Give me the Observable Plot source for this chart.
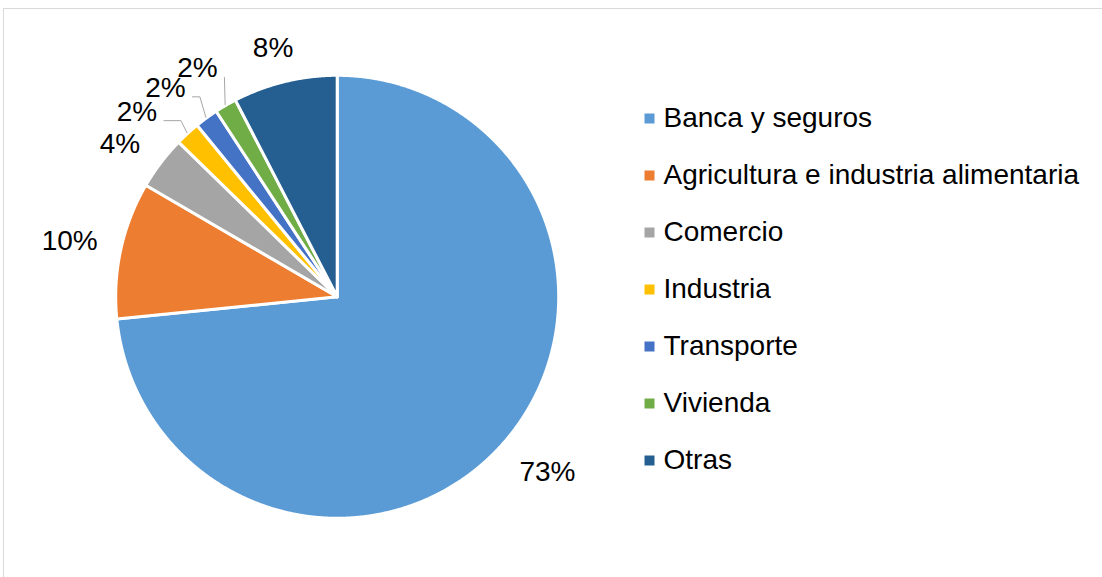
<!DOCTYPE html>
<html>
<head>
<meta charset="utf-8">
<script src="https://cdn.jsdelivr.net/npm/d3@7"></script>
<script src="https://cdn.jsdelivr.net/npm/@observablehq/plot@0.6"></script>
<style>
  html, body { margin: 0; padding: 0; background: #fff; }
  #wrap { position: relative; width: 1102px; height: 577px; overflow: hidden; font-family: "Liberation Sans", Arial, sans-serif; }
  #frame { position: absolute; left: 3px; top: 8px; width: 1300px; height: 800px; border: 1px solid #d9d9d9; box-sizing: border-box; }
  #wrap svg { position: absolute; left: 0; top: 0; }
</style>
</head>
<body>
<div id="wrap"><div id="frame"></div></div>
<script>
// ---- data ----
const categories = ["Banca y seguros", "Agricultura e industria alimentaria", "Comercio", "Industria", "Transporte", "Vivienda", "Otras"];
const values = [73.4, 10.0, 3.9, 1.8, 1.7, 1.6, 7.6];
const colors = ["#5B9BD5", "#ED7D31", "#A5A5A5", "#FFC000", "#4472C4", "#70AD47", "#255E91"];

// ---- layout ----
const W = 1102, H = 577;
const cx = 336.7, cy = 296.3, R = 221.5;   // pixel centre & radius of the pie
const fontSize = 28;

const pie = d3.pie().sort(null).value(d => d)(values);
const total = d3.sum(values);

// slice polygons in data units (unit circle, y up)
const polys = [];
pie.forEach((p, i) => {
  const cat = categories[i];
  polys.push({cat, x: 0, y: 0});
  const n = Math.max(2, Math.ceil((p.endAngle - p.startAngle) / (Math.PI / 720)));
  for (let k = 0; k <= n; k++) {
    const a = p.startAngle + (p.endAngle - p.startAngle) * k / n;
    polys.push({cat, x: Math.sin(a), y: Math.cos(a)});
  }
  polys.push({cat, x: 0, y: 0});
});

// label placement: mid-angle, pushed back so labels keep a minimum angular gap
const gap = 8 * Math.PI / 180;
const mids = pie.map(p => (p.startAngle + p.endAngle) / 2);
const la = mids.slice();
for (let i = la.length - 2; i >= 0; i--) la[i] = Math.min(la[i], la[i + 1] - gap);

const clamp = v => Math.max(-1, Math.min(1, v));
const labelRows = [], leaderRows = [];
pie.forEach((p, i) => {
  const text = Math.round(values[i] / total * 100) + "%";
  const small = values[i] / total * 100 < 2.5;
  const a = la[i];
  const w = 20 * text.length, h = 26;
  const r0 = R + (small ? 28 : 21.5);
  const lx = r0 * Math.sin(a) + w / 2 * clamp(1.4 * Math.sin(a));
  const ly = -r0 * Math.cos(a) + h / 2 * clamp(-1.4 * Math.cos(a));
  labelRows.push({cat: categories[i], text, x: lx / R, y: -ly / R});
  if (small) {
    const m = mids[i];
    const ex = (R + 1) * Math.sin(m), ey = -(R + 1) * Math.cos(m);
    const tx = lx + 27, ty = ly + 9;
    const bx = Math.max(tx, ex - 6), by = ty;
    [[ex, ey], [bx, by], [tx, ty]].forEach(([px, py]) =>
      leaderRows.push({cat: categories[i], x: px / R, y: -py / R}));
  }
});

const main = Plot.plot({
  width: W, height: H,
  marginLeft: cx - R, marginRight: W - cx - R,
  marginTop: cy - R, marginBottom: H - cy - R,
  x: {domain: [-1, 1], axis: null},
  y: {domain: [-1, 1], axis: null},
  color: {domain: categories, range: colors},
  style: {fontFamily: "'Liberation Sans', Arial, sans-serif", background: "transparent", overflow: "visible"},
  marks: [
    Plot.line(polys, {x: "x", y: "y", z: "cat", fill: "cat", stroke: "white", strokeWidth: 3, strokeLinejoin: "round", strokeLinecap: "round"}),
    Plot.line(leaderRows, {x: "x", y: "y", z: "cat", stroke: "#a6a6a6", strokeWidth: 1}),
    Plot.text(labelRows, {x: "x", y: "y", text: "text", fontSize, fill: "#000"})
  ]
});

const legend = Plot.plot({
  width: W, height: H,
  marginLeft: 649, marginRight: 0, marginTop: 117, marginBottom: 117,
  y: {type: "point", domain: categories, padding: 0, axis: null},
  color: {domain: categories, range: colors},
  style: {fontFamily: "'Liberation Sans', Arial, sans-serif", background: "transparent", overflow: "visible"},
  marks: [
    Plot.dot(categories, {y: d => d, fill: d => d, symbol: "square", r: 5.64, frameAnchor: "left"}),
    Plot.text(categories, {y: d => d, text: d => d, frameAnchor: "left", dx: 14, textAnchor: "start", fontSize, fill: "#000"})
  ]
});

const wrap = document.getElementById("wrap");
wrap.appendChild(main);
wrap.appendChild(legend);
legend.style.pointerEvents = "none";
</script>
</body>
</html>
